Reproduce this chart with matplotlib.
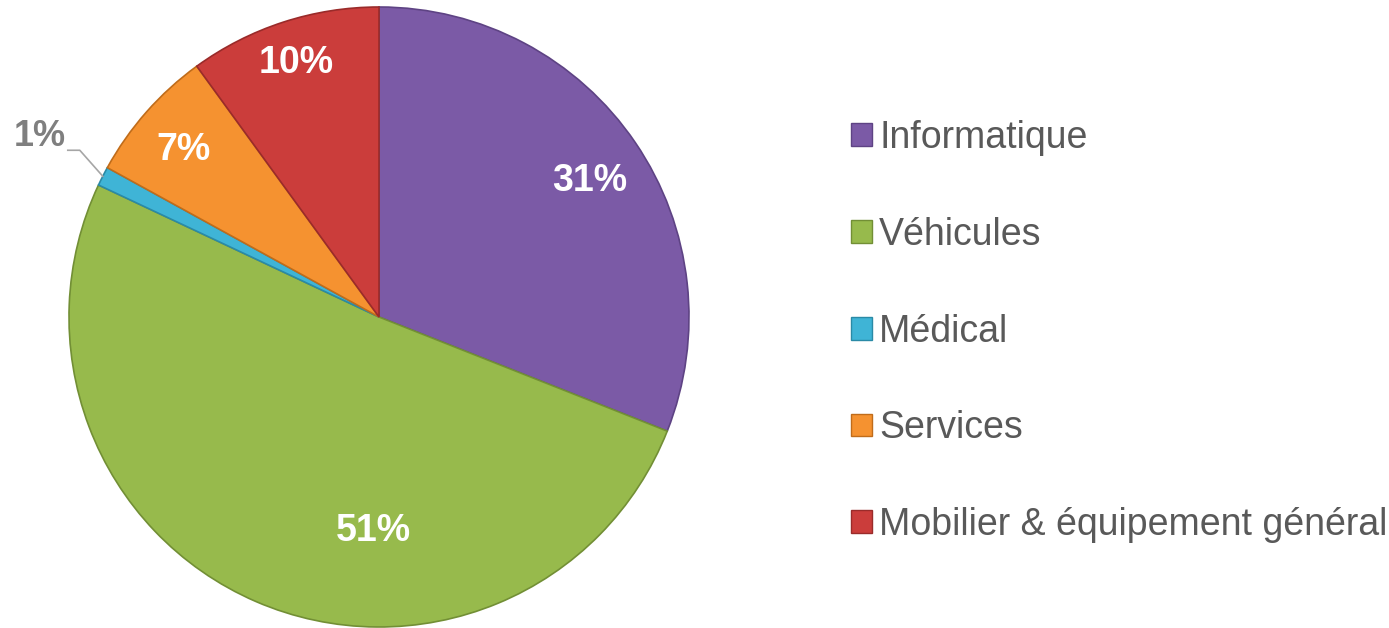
import numpy as np
import matplotlib.pyplot as plt
from matplotlib.patches import Patch

plt.rcParams['font.family'] = ['Liberation Sans', 'DejaVu Sans']

categories = ['Informatique', 'Véhicules', 'Médical', 'Services', 'Mobilier & équipement général']
values = [31, 51, 1, 7, 10]
colors = ['#7B5AA6', '#97BA4C', '#3FB4D6', '#F59230', '#CB3D3B']
edges = ['#5E4384', '#728F35', '#2A8AA6', '#C06C1A', '#9A2B2A']

# label placement (radius fraction, angle shift in degrees) - mimics Excel "best fit"
lab_r = [0.81, 0.69, 1.0, 0.83, 0.86]
lab_da = [-1.4, 21.8, 0, 1.0, 0]

W, H = 1389, 628
fig = plt.figure(figsize=(W / 100, H / 100), dpi=100)
ax = fig.add_axes([0, 0, 1, 1])
ax.set_xlim(0, W)
ax.set_ylim(0, H)
ax.set_aspect('equal')
ax.axis('off')

cx, cy, r = 379, H - 317, 310
wedges, _ = ax.pie(values, colors=colors, startangle=90, counterclock=False,
                   center=(cx, cy), radius=r, frame=True,
                   wedgeprops=dict(linewidth=1.2))
for w, ec in zip(wedges, edges):
    w.set_edgecolor(ec)

# data labels
for w, v, fr, da in zip(wedges, values, lab_r, lab_da):
    ang = np.deg2rad((w.theta1 + w.theta2) / 2 + da)
    if v < 3:
        # outside label with leader line
        ex, ey = cx + r * np.cos(ang), cy + r * np.sin(ang)
        kx, ky = ex - 23, ey + 26
        ax.plot([ex, kx, kx - 12], [ey, ky, ky], color='#A6A6A6', lw=1.2)
        ax.text(kx - 14, ky + 14, f'{v}%', ha='right', va='center',
                fontsize=26, fontweight='bold', color='#7F7F7F')
    else:
        ax.text(cx + fr * r * np.cos(ang), cy + fr * r * np.sin(ang), f'{v}%',
                ha='center', va='center', fontsize=27, fontweight='bold', color='white')

handles = [Patch(facecolor=c, edgecolor=e) for c, e in zip(colors, edges)]
leg = fig.legend(handles, categories, loc='upper left', bbox_to_anchor=(851 / W, 1 - 120 / H),
                 frameon=False, fontsize=27, labelspacing=1.62, handlelength=0.55,
                 handleheight=0.55, handletextpad=0.2, borderpad=0, borderaxespad=0)
for t in leg.get_texts():
    t.set_color('#595959')

fig.savefig('out.png', dpi=100)
